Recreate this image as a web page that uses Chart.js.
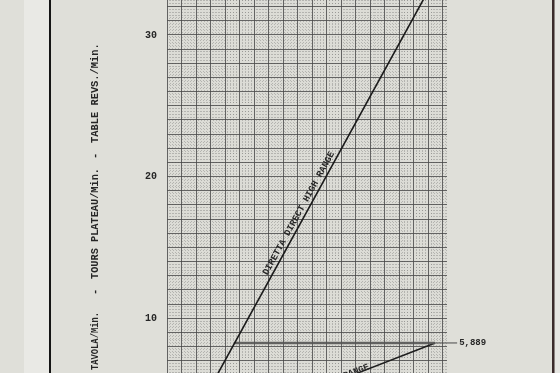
<!DOCTYPE html>
<html>
<head>
<meta charset="utf-8">
<script src="https://cdn.jsdelivr.net/npm/chart.js@4.4.0/dist/chart.umd.min.js"></script>
<style>
  html, body { margin: 0; padding: 0; background: #e0e0da; }
  #wrap { width: 560px; height: 373px; }
</style>
</head>
<body>
<div id="wrap"><canvas id="chart" width="560" height="373"></canvas></div>
<script>
// values, in grid squares
const yMin = 6.14, yMax = 32.47;
const xMin = 0, xMax = 19.3;
const yTickLabels = [10, 20, 30];

const highRangeX = [3.45, 17.94];
const highRangeY = [6.0, 33.0];
const feedX = [4.66, 18.48];
const feedY = [8.26, 8.26];
const leaderX = [18.48, 20.0];
const leaderY = [8.26, 8.26];
const lowRangeX = [18.48, 12.8];
const lowRangeY = [8.26, 6.0];

const highRangeLabel = 'DIRETTA DIRECT HIGH RANGE';
const lowRangeLabel = 'LOW RANGE';
const endLabel = '5,889';
const titleParts = ['TAVOLA/Min.', 'TOURS PLATEAU/Min.', 'TABLE REVS./Min.'];

const MONO = '"Liberation Mono", "DejaVu Sans Mono", monospace';
const INK = '#262626';

function pts(xs, ys) {
    return xs.map((x, i) => ({ x: x, y: ys[i] }));
}

// text placed along a segment, at data point (atX, atY)
function textAlong(chart, text, xs, ys, atX, atY, align, font, offset) {
    const sx = chart.scales.x, sy = chart.scales.y;
    const x1 = sx.getPixelForValue(xs[0]), y1 = sy.getPixelForValue(ys[0]);
    const x2 = sx.getPixelForValue(xs[1]), y2 = sy.getPixelForValue(ys[1]);
    let ang = Math.atan2(y2 - y1, x2 - x1);
    if (Math.abs(ang) > Math.PI / 2) ang += Math.PI;
    const ctx = chart.ctx;
    ctx.save();
    ctx.translate(sx.getPixelForValue(atX), sy.getPixelForValue(atY));
    ctx.rotate(ang);
    ctx.font = font;
    ctx.fillStyle = INK;
    ctx.textAlign = align;
    ctx.textBaseline = 'bottom';
    ctx.fillText(text, 0, offset);
    ctx.restore();
}

// no room kept for half tick labels: the sheet runs past the photo edges
function flush(s) {
    s.paddingTop = 0;
    s.paddingBottom = 0;
    s.paddingLeft = 0;
    s.paddingRight = 0;
}

const paper = {
    id: 'paper',
    beforeDraw(chart) {
        const ctx = chart.ctx;
        const { width, height, chartArea } = chart;
        ctx.save();
        ctx.fillStyle = '#dfdfd9';
        ctx.fillRect(0, 0, width, height);
        ctx.fillStyle = '#e9e9e5';
        ctx.fillRect(24, 0, 25, height);
        ctx.fillStyle = '#dcdcd6';
        ctx.fillRect(chartArea.left, chartArea.top, chartArea.width, chartArea.height);
        ctx.fillStyle = '#151515';
        ctx.fillRect(49, 0, 2, height);
        ctx.fillStyle = '#3a2b2b';
        ctx.fillRect(552, 0, 2.5, height);
        ctx.fillStyle = '#e6e6e2';
        ctx.fillRect(555, 0, 5, height);
        ctx.restore();
    },
    afterDatasetsDraw(chart) {
        const ctx = chart.ctx;
        const sx = chart.scales.x, sy = chart.scales.y;

        // label along the high range line
        const midY = 17.2;
        const midX = highRangeX[0] + (midY - highRangeY[0]) * (highRangeX[1] - highRangeX[0]) / (highRangeY[1] - highRangeY[0]);
        textAlong(chart, highRangeLabel, highRangeX, highRangeY, midX, midY, 'center', 'bold 9.3px ' + MONO, -1.5);

        // label along the low range line (mostly cut off by the photo)
        const endX = 13.95;
        const endY = lowRangeY[1] + (endX - lowRangeX[1]) * (lowRangeY[0] - lowRangeY[1]) / (lowRangeX[0] - lowRangeX[1]);
        textAlong(chart, lowRangeLabel, lowRangeX, lowRangeY, endX, endY, 'right', 'bold 9px ' + MONO, 2.5);

        ctx.save();
        ctx.font = 'bold 9px ' + MONO;
        ctx.fillStyle = INK;
        ctx.textAlign = 'left';
        ctx.textBaseline = 'middle';
        ctx.fillText(endLabel, sx.getPixelForValue(leaderX[1]) + 2, sy.getPixelForValue(leaderY[1]));

        // vertical axis title, typed in three pieces with dashes between
        ctx.translate(95, 0);
        ctx.rotate(-Math.PI / 2);
        ctx.font = 'bold 10.4px ' + MONO;
        ctx.textBaseline = 'middle';
        ctx.fillText(titleParts[0], -370, 0, 58);
        ctx.fillText('-', -295, 0);
        ctx.fillText(titleParts[1], -279, 0, 111);
        ctx.fillText('-', -159, 0);
        ctx.fillText(titleParts[2], -143, 0, 106);
        ctx.restore();
    }
};

const minorGrid = {
    display: true,
    drawTicks: false,
    color: 'rgba(95, 95, 95, 0.32)',
    lineWidth: 1
};

new Chart(document.getElementById('chart'), {
    type: 'scatter',
    data: {
        datasets: [
            { data: pts(highRangeX, highRangeY), showLine: true, borderColor: '#1a1a1a', borderWidth: 1.6, pointRadius: 0 },
            { data: pts(feedX, feedY), showLine: true, borderColor: 'rgba(85, 85, 85, 0.9)', borderWidth: 2.6, pointRadius: 0 },
            { data: pts(leaderX, leaderY), showLine: true, borderColor: '#4a4a4a', borderWidth: 1, pointRadius: 0, clip: false },
            { data: pts(lowRangeX, lowRangeY), showLine: true, borderColor: '#1e1e1e', borderWidth: 1.5, pointRadius: 0 }
        ]
    },
    options: {
        responsive: false,
        animation: false,
        layout: { padding: { left: 0, right: 113, top: 0, bottom: 0 } },
        plugins: { legend: { display: false }, tooltip: { enabled: false } },
        scales: {
            x: {
                type: 'linear', min: xMin, max: xMax, position: 'bottom',
                ticks: { display: false, stepSize: 1, includeBounds: false },
                grid: { drawTicks: false, color: 'rgba(70, 70, 70, 0.8)', lineWidth: 1 },
                border: { display: false },
                afterFit: s => { s.height = 0; flush(s); }
            },
            x2: {
                type: 'linear', min: xMin, max: xMax, position: 'bottom',
                ticks: { display: false, stepSize: 0.2, includeBounds: false },
                grid: minorGrid,
                border: { display: false, dash: [1, 2] },
                afterFit: s => { s.height = 0; flush(s); }
            },
            y: {
                type: 'linear', min: yMin, max: yMax, position: 'left',
                ticks: {
                    stepSize: 1, autoSkip: false, includeBounds: false, padding: 10,
                    color: INK, font: { family: MONO, size: 10, weight: 'bold' },
                    callback: v => yTickLabels.includes(v) ? String(v) : ''
                },
                grid: { drawTicks: false, color: 'rgba(70, 70, 70, 0.8)', lineWidth: 1 },
                border: { display: false },
                afterFit: s => { s.width = 167; flush(s); }
            },
            y2: {
                type: 'linear', min: yMin, max: yMax, position: 'left',
                ticks: { display: false, stepSize: 0.2, includeBounds: false },
                grid: minorGrid,
                border: { display: false, dash: [1, 2] },
                afterFit: s => { s.width = 0; flush(s); }
            }
        }
    },
    plugins: [paper]
});
</script>
</body>
</html>
